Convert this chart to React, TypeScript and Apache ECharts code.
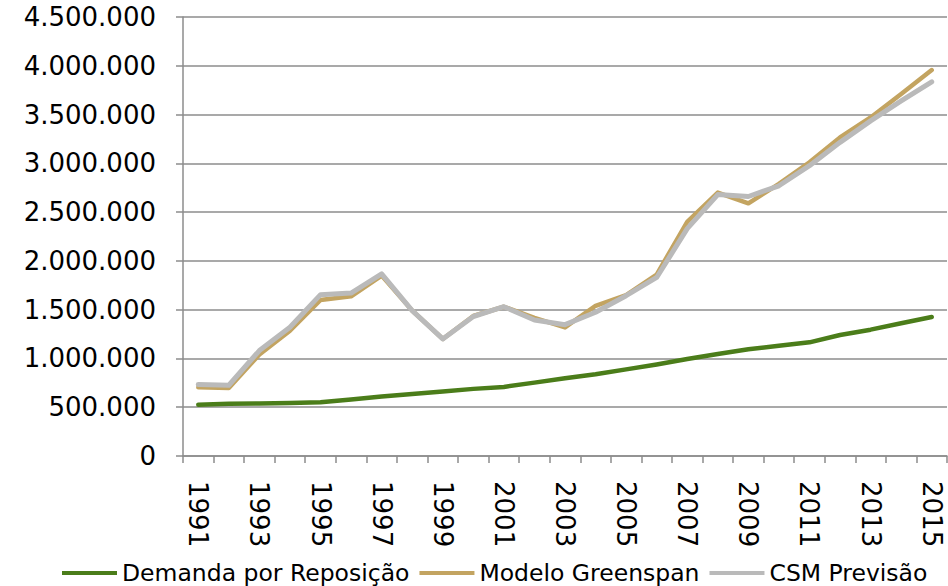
import React, { useEffect, useRef } from "react";
import * as echarts from "echarts";

const years = [
  "1991", "1992", "1993", "1994", "1995", "1996", "1997", "1998", "1999", "2000",
  "2001", "2002", "2003", "2004", "2005", "2006", "2007", "2008", "2009", "2010",
  "2011", "2012", "2013", "2014", "2015",
];

const demandaReposicao = [
  525000, 535000, 538000, 543000, 550000, 580000, 610000, 635000, 662000, 688000,
  708000, 752000, 798000, 838000, 888000, 938000, 995000, 1045000, 1095000, 1130000,
  1165000, 1240000, 1295000, 1360000, 1425000,
];

const modeloGreenspan = [
  705000, 698000, 1040000, 1285000, 1600000, 1637000, 1850000, 1490000, 1200000, 1435000,
  1530000, 1415000, 1318000, 1540000, 1650000, 1860000, 2400000, 2700000, 2590000, 2790000,
  3010000, 3265000, 3470000, 3710000, 3956000,
];

const csmPrevisao = [
  732000, 725000, 1081000, 1320000, 1654000, 1670000, 1866000, 1490000, 1200000, 1430000,
  1530000, 1394000, 1346000, 1473000, 1643000, 1830000, 2330000, 2680000, 2660000, 2770000,
  2976000, 3215000, 3435000, 3640000, 3836000,
];

const seriesNames = ["Demanda por Reposição", "Modelo Greenspan", "CSM Previsão"];

const fmt = (v: number) =>
  String(Math.round(v)).replace(/\B(?=(\d{3})+(?!\d))/g, ".");

export default function App() {
  const ref = useRef<HTMLDivElement>(null);
  useEffect(() => {
    if (!ref.current) return;
    const chart = echarts.init(ref.current, null, { renderer: "svg" });
    const font = "DejaVu Sans";
    chart.setOption({
      animation: false,
      backgroundColor: "#ffffff",
      grid: { left: 183, right: 1, top: 17, bottom: 130, containLabel: false },
      legend: {
        left: 62,
        top: 561,
        itemWidth: 55,
        itemHeight: 4,
        itemGap: 10,
        icon: "rect",
        padding: 0,
        textStyle: { fontFamily: font, fontSize: 23.5, color: "#000000" },
        data: seriesNames,
      },
      xAxis: {
        type: "category",
        data: years,
        boundaryGap: true,
        axisLine: { show: true, lineStyle: { color: "#8c8c8c", width: 1.5 } },
        axisTick: {
          show: true,
          interval: 0,
          length: 7,
          lineStyle: { color: "#8c8c8c", width: 1.5 },
        },
        axisLabel: {
          interval: 1,
          rotate: -90,
          margin: 25,
          fontFamily: font,
          fontSize: 26,
          color: "#000000",
        },
        splitLine: { show: false },
      },
      yAxis: {
        type: "value",
        min: 0,
        max: 4500000,
        interval: 500000,
        axisLine: { show: true, lineStyle: { color: "#8c8c8c", width: 1.5 } },
        axisTick: { show: true, length: 7, lineStyle: { color: "#8c8c8c", width: 1.5 } },
        axisLabel: {
          margin: 27,
          fontFamily: font,
          fontSize: 26,
          color: "#000000",
          formatter: (v: number) => fmt(v),
        },
        splitLine: { show: true, lineStyle: { color: "#8c8c8c", width: 1.5 } },
      },
      series: [
        {
          name: seriesNames[0],
          type: "line",
          data: demandaReposicao,
          symbol: "none",
          color: "#4b7d1a",
          lineStyle: { width: 4.5, color: "#4b7d1a", cap: "round", join: "round" },
          z: 3,
        },
        {
          name: seriesNames[1],
          type: "line",
          data: modeloGreenspan,
          symbol: "none",
          color: "#c3a461",
          lineStyle: { width: 4.5, color: "#c3a461", cap: "round", join: "round" },
          z: 2,
        },
        {
          name: seriesNames[2],
          type: "line",
          data: csmPrevisao,
          symbol: "none",
          color: "#bababa",
          lineStyle: { width: 5, color: "#bababa", cap: "round", join: "round" },
          z: 4,
        },
      ],
    });
    return () => chart.dispose();
  }, []);
  return (
    <div
      ref={ref}
      style={{ position: "fixed", left: 0, top: 0, width: 948, height: 586 }}
    />
  );
}
